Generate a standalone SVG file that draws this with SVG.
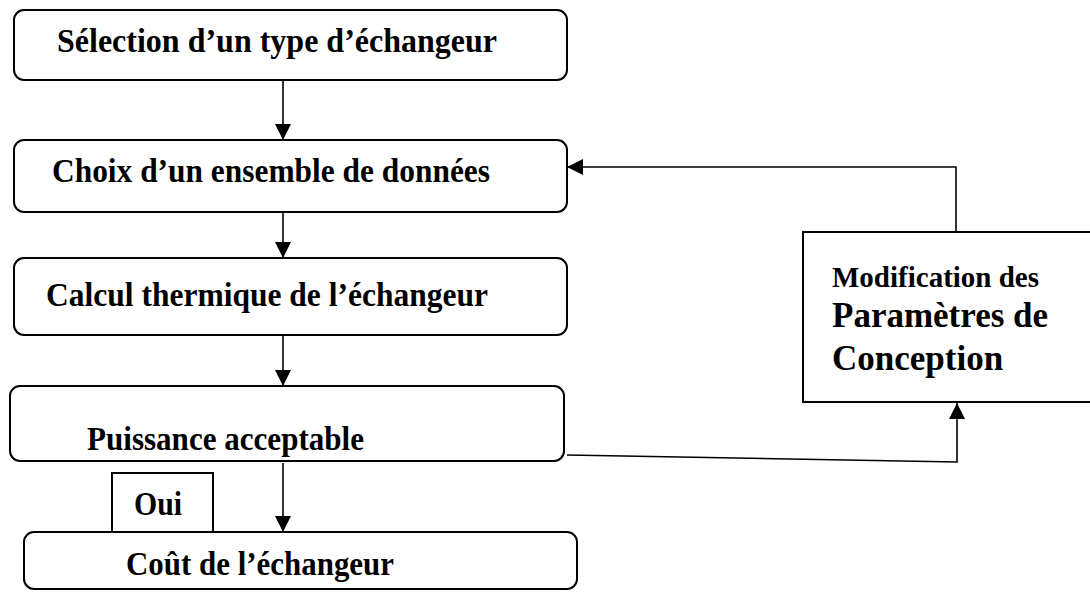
<svg xmlns="http://www.w3.org/2000/svg" width="1090" height="592" viewBox="0 0 1090 592">
<defs>
<marker id="ah" markerWidth="16" markerHeight="16" viewBox="0 0 16 16" refX="16" refY="8" orient="auto" markerUnits="userSpaceOnUse">
<path d="M0,0 L16,8 L0,16 Z" fill="#000"/>
</marker>
<style>
.box{fill:#fff;stroke:#000;stroke-width:2}
.t{font-family:"Liberation Serif","Times New Roman",serif;font-weight:bold;fill:#000}
.l{font-size:34px}
.c{fill:none;stroke:#000;stroke-width:1.6}
</style>
</defs>
<rect width="1090" height="592" fill="#fff"/>
<g id="connectors">
<line class="c" x1="283" y1="80" x2="283" y2="140" marker-end="url(#ah)"/>
<line class="c" x1="283" y1="212" x2="283" y2="258" marker-end="url(#ah)"/>
<line class="c" x1="283" y1="335" x2="283" y2="386" marker-end="url(#ah)"/>
<line class="c" x1="283" y1="463" x2="283" y2="532" marker-end="url(#ah)"/>
<polyline class="c" points="567,455 957,462 957,403" marker-end="url(#ah)"/>
<polyline class="c" points="956,232 956,167 567,167" marker-end="url(#ah)"/>
</g>
<g id="n1">
<rect class="box" x="14" y="10" width="553" height="70" rx="10"/>
<text class="t l" x="57" y="52" textLength="440" lengthAdjust="spacingAndGlyphs">Sélection d’un type d’échangeur</text>
</g>
<g id="n2">
<rect class="box" x="14" y="140" width="553" height="72" rx="10"/>
<text class="t l" x="52" y="182" textLength="438" lengthAdjust="spacingAndGlyphs">Choix d’un ensemble de données</text>
</g>
<g id="n3">
<rect class="box" x="14" y="258" width="553" height="77" rx="10"/>
<text class="t l" x="46" y="306" textLength="442" lengthAdjust="spacingAndGlyphs">Calcul thermique de l’échangeur</text>
</g>
<g id="n4">
<rect class="box" x="10" y="386" width="554" height="75" rx="10"/>
<text class="t l" x="87" y="450" textLength="277" lengthAdjust="spacingAndGlyphs">Puissance acceptable</text>
</g>
<g id="n5">
<rect class="box" x="112" y="473" width="101" height="59"/>
<text class="t l" x="134" y="515" textLength="48" lengthAdjust="spacingAndGlyphs">Oui</text>
</g>
<g id="n6">
<rect class="box" x="24" y="532" width="553" height="57" rx="10"/>
<text class="t l" x="126" y="575" textLength="268" lengthAdjust="spacingAndGlyphs">Coût de l’échangeur</text>
</g>
<g id="n7">
<rect class="box" x="803" y="232" width="295" height="170"/>
<text class="t" x="832" y="287" font-size="29">Modification des</text>
<text class="t" x="832" y="327" font-size="35">Paramètres de</text>
<text class="t" x="832" y="370" font-size="35">Conception</text>
</g>
</svg>
